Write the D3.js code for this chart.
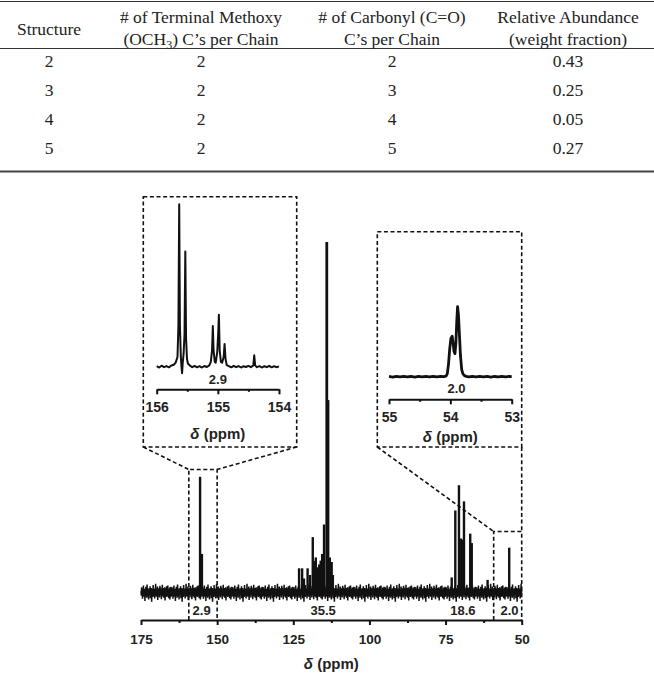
<!DOCTYPE html>
<html>
<head>
<meta charset="utf-8">
<script src="https://cdn.jsdelivr.net/npm/d3@7"></script>
<style>
  body { margin: 0; background: #fff; }
  svg { display: block; }
  .tbl text { font-family: "Liberation Serif", "Times New Roman", serif; font-size: 17.5px; fill: #222; }
  .ax text, .lbl { font-family: "Liberation Sans", Arial, sans-serif; font-weight: bold; fill: #222; }
  .ax path, .ax line { stroke: #111; stroke-width: 2; }
</style>
</head>
<body>
<svg id="chart" width="654" height="673"></svg>
<script>
// ---- table data
const structures = ["2", "3", "4", "5"];
const methoxyCounts = ["2", "2", "2", "2"];
const carbonylCounts = ["2", "3", "4", "5"];
const abundances = ["0.43", "0.25", "0.05", "0.27"];

// ---- main spectrum: peak positions (ppm) and heights (% of tallest)
const mainPeakPpm    = [155.6, 155.0, 123.1, 122.1, 121.5, 120.3, 119.5, 118.6, 118.2, 117.9, 117.6, 117.1, 116.5, 116.0, 115.5, 114.9, 114.0, 113.6, 113.0, 112.4, 112.0, 72.98, 71.8, 70.6, 70.2, 69.9, 69.5, 68.95, 66.9, 66.4, 61.2, 54.1];
const mainPeakHeight = [33,    11,    6.9,   6.9,   4,     6.9,   5,     15.8,  9,     8.3,   10,    7.2,   8,     9.1,   11,    19.4,  100,   54.9,  10,    8.7,   5,     4.3,   23.4, 30.6, 15,   15.4, 15,   26,    16.8, 14.1, 3.6,  12.8];
// baseline noise, read as a repeating pattern (% units)
const noisePattern = [0.4,-0.9,1.5,-0.6,0.3,-1.8,1.0,-0.4,2.0,-1.2,0.6,-0.7,1.1,-2.4,0.8,-0.3,1.6,-1.0,0.4,-1.5,2.3,-0.5,0.7,-1.1,0.9,-2.0,1.2,-0.2,0.6,-0.8,1.8,-1.6,0.3,-0.6,1.3,-2.6,1.0,-0.4,0.5,-1.3,2.1,-0.9,0.7,-0.3,1.1,-1.7,0.4,-1.0,2.5,-0.7,0.8,-1.2,0.5,-0.4,1.7,-2.1,0.9,-0.5,1.2,-0.8,0.3,-1.4,1.9,-0.6,1.4,-0.3,0.6,-1.9,1.0,-0.7,2.2,-1.1,0.2,-0.8,1.3,-1.5,0.7,-0.2,1.5,-2.3,0.6,-0.9,1.1,-0.4,1.8,-1.3,0.4,-0.6,2.0,-1.0,0.9,-1.6,0.5,-0.3,1.4,-2.0,0.8,-0.5,1.6,-1.2];
const mainTicks = [175, 150, 125, 100, 75, 50];
const mainMinorTicks = [162.5, 137.5, 112.5, 87.5, 62.5];
const integralLabels = ["2.9", "35.5", "18.6", "2.0"];
const integralPpm = [155.1, 115.2, 69.3, 54.0];

// ---- insets: [ppm, intensity %]
const leftInset = [[156.00,0.3],[155.96,-0.5],[155.92,0.6],[155.88,-0.3],[155.84,0.4],[155.80,-0.4],[155.76,0.7],[155.72,1.2],[155.69,2.5],[155.66,6],[155.645,25],[155.632,100],[155.62,25],[155.605,6],[155.595,0],[155.585,-4],[155.575,2],[155.56,8],[155.545,20],[155.532,71],[155.52,18],[155.505,5],[155.49,2],[155.46,0.8],[155.42,-0.3],[155.38,0.5],[155.34,-0.4],[155.30,0.3],[155.26,-0.5],[155.22,0.4],[155.18,-0.2],[155.14,0.8],[155.115,3],[155.095,10],[155.082,25],[155.07,10],[155.05,3],[155.035,2.5],[155.01,9],[154.995,20],[154.983,32],[154.97,10],[154.95,3],[154.93,2.5],[154.905,6],[154.89,14],[154.875,5],[154.855,1],[154.82,0.4],[154.78,-0.4],[154.74,0.5],[154.70,-0.3],[154.66,0.4],[154.62,-0.5],[154.58,0.3],[154.54,-0.2],[154.50,0.5],[154.46,-0.3],[154.42,0.8],[154.405,7],[154.39,0.8],[154.36,-0.3],[154.32,0.4],[154.28,-0.5],[154.24,0.3],[154.20,-0.3],[154.16,0.5],[154.12,-0.4],[154.08,0.3],[154.04,-0.3],[154.00,0.2]];
const leftTicks = [156, 155, 154];
const leftMinor = [155.5, 154.5];

const rightInset = [[55.00,0.4],[54.94,-0.5],[54.88,0.6],[54.82,-0.3],[54.76,0.5],[54.70,-0.4],[54.64,0.3],[54.58,-0.5],[54.52,0.6],[54.46,-0.3],[54.40,0.4],[54.34,-0.4],[54.28,0.5],[54.22,-0.3],[54.16,0.4],[54.10,0.2],[54.07,1],[54.05,4],[54.03,18],[54.01,40],[53.99,55],[53.97,58],[53.955,48],[53.94,36],[53.925,33],[53.91,48],[53.895,80],[53.882,100],[53.868,88],[53.852,60],[53.835,30],[53.815,10],[53.795,4],[53.77,1.5],[53.74,0.5],[53.70,-0.3],[53.64,0.4],[53.58,-0.4],[53.52,0.5],[53.46,-0.3],[53.40,0.4],[53.34,-0.5],[53.28,0.3],[53.22,-0.4],[53.16,0.5],[53.10,-0.3],[53.04,0.4],[53.00,0.2]];
const rightTicks = [55, 54, 53];
const rightMinor = [54.5, 53.5];

const svg = d3.select('#chart');

// ================= TABLE =================
const tbl = svg.append('g').attr('class', 'tbl');
const colX = d3.scaleOrdinal().domain([0, 1, 2, 3]).range([49, 201, 392, 568]);
const rowY = d3.scalePoint().domain(structures).range([61, 148]);

tbl.append('line').attr('x1', 0).attr('x2', 654).attr('y1', 1.5).attr('y2', 1.5)
    .attr('stroke', '#333').attr('stroke-width', 1);
tbl.append('line').attr('x1', 0).attr('x2', 654).attr('y1', 48.5).attr('y2', 48.5)
    .attr('stroke', '#333').attr('stroke-width', 1);
tbl.append('line').attr('x1', 0).attr('x2', 654).attr('y1', 171.5).attr('y2', 171.5)
    .attr('stroke', '#444').attr('stroke-width', 2);

// header
tbl.append('text').attr('x', colX(0)).attr('y', 35).attr('text-anchor', 'middle').text('Structure');
tbl.append('text').attr('x', colX(1)).attr('y', 23).attr('text-anchor', 'middle').text('# of Terminal Methoxy');
const h2 = tbl.append('text').attr('x', colX(1)).attr('y', 45).attr('text-anchor', 'middle');
h2.append('tspan').text('(OCH');
h2.append('tspan').attr('font-size', '12px').attr('dy', 4).text('3');
h2.append('tspan').attr('dy', -4).text(')\u00a0C\u2019s per Chain');
tbl.append('text').attr('x', colX(2)).attr('y', 23).attr('text-anchor', 'middle').text('# of Carbonyl (C=O)');
tbl.append('text').attr('x', colX(2)).attr('y', 45).attr('text-anchor', 'middle').text('C\u2019s per Chain');
tbl.append('text').attr('x', colX(3)).attr('y', 23).attr('text-anchor', 'middle').text('Relative Abundance');
tbl.append('text').attr('x', colX(3)).attr('y', 45).attr('text-anchor', 'middle').text('(weight fraction)');

const rows = structures.map((s, i) => [s, methoxyCounts[i], carbonylCounts[i], abundances[i]]);
rows.forEach(r => {
  r.forEach((v, c) => {
    tbl.append('text').attr('x', colX(c)).attr('y', rowY(r[0]) + 6)
      .attr('text-anchor', 'middle').text(v);
  });
});

// ================= MAIN SPECTRUM =================
const x = d3.scaleLinear().domain([175, 50]).range([141, 521.7]);
const y = d3.scaleLinear().domain([0, 100]).range([592.5, 242]);
const axisY = 620;

// baseline noise trace
const samples = d3.range(0, 1251).map(i => [175 - i * 0.1, noisePattern[i % noisePattern.length]]);
svg.append('path')
    .datum(samples)
    .attr('fill', 'none')
    .attr('stroke', '#111')
    .attr('stroke-width', 1.5)
    .attr('d', d3.line().x(d => x(d[0])).y(d => y(d[1])));

// peaks
svg.selectAll('.peak')
    .data(mainPeakPpm.map((p, i) => [p, mainPeakHeight[i]]))
    .enter().append('line')
    .attr('class', 'peak')
    .attr('x1', d => x(d[0])).attr('x2', d => x(d[0]))
    .attr('y1', y(0)).attr('y2', d => y(d[1]))
    .attr('stroke', '#111')
    .attr('stroke-width', d => d[1] > 50 ? 2.8 : 2.4);

// axis
svg.append('g').attr('class', 'ax')
    .attr('transform', 'translate(0,' + axisY + ')')
    .call(d3.axisBottom(x).tickValues(mainTicks).tickFormat(d3.format('d'))
        .tickSize(5).tickSizeOuter(0).tickPadding(9))
    .call(g => g.selectAll('text').attr('font-size', '13.5px'));
svg.append('g').attr('class', 'ax')
    .attr('transform', 'translate(0,' + axisY + ')')
    .call(d3.axisBottom(x).tickValues(mainMinorTicks).tickSize(3).tickSizeOuter(0).tickFormat(''))
    .call(g => g.select('.domain').remove());

const title = (g, cx, cy, size) => {
  const t = g.append('text').attr('class', 'lbl').attr('x', cx).attr('y', cy)
      .attr('text-anchor', 'middle').attr('font-size', size);
  t.append('tspan').attr('font-style', 'italic').text('\u03b4');
  t.append('tspan').text(' (ppm)');
};
title(svg, (x.range()[0] + x.range()[1]) / 2, 669, '15px');

svg.selectAll('.integ')
    .data(integralLabels)
    .enter().append('text')
    .attr('class', 'lbl integ')
    .attr('x', (d, i) => x(integralPpm[i]))
    .attr('y', 615)
    .attr('text-anchor', 'middle')
    .attr('font-size', '13px')
    .text(d => d);

// ================= INSETS =================
const dash = sel => sel.attr('fill', 'none').attr('stroke', '#111')
    .attr('stroke-width', 1.6).attr('stroke-dasharray', '4,2.6');

function drawInset(o) {
  const ix = d3.scaleLinear().domain(o.domain).range(o.xr);
  const iy = d3.scaleLinear().domain([0, 100]).range(o.yr);
  svg.append('rect').attr('x', o.box[0]).attr('y', o.box[1])
      .attr('width', o.box[2] - o.box[0]).attr('height', o.box[3] - o.box[1]).call(dash);
  svg.append('path').datum(o.data)
      .attr('fill', 'none').attr('stroke', '#111')
      .attr('stroke-width', o.sw).attr('stroke-linejoin', 'round')
      .attr('d', d3.line().x(d => ix(d[0])).y(d => iy(d[1])));
  svg.append('g').attr('class', 'ax')
      .attr('transform', 'translate(0,' + o.axisY + ')')
      .call(d3.axisBottom(ix).tickValues(o.ticks).tickFormat(d3.format('d'))
          .tickSize(5).tickSizeOuter(0).tickPadding(7.5))
      .call(g => g.selectAll('text').attr('font-size', '14px'));
  svg.append('g').attr('class', 'ax')
      .attr('transform', 'translate(0,' + o.axisY + ')')
      .call(d3.axisBottom(ix).tickValues(o.minor).tickSize(2.5).tickSizeOuter(0).tickFormat(''))
      .call(g => g.select('.domain').remove());
  svg.append('text').attr('class', 'lbl')
      .attr('x', ix(o.labelPpm)).attr('y', o.labelY)
      .attr('text-anchor', 'middle').attr('font-size', '13px').text(o.label);
  title(svg, (o.xr[0] + o.xr[1]) / 2, o.titleY, '15px');

  // zoom window on the main spectrum and connectors
  const zx0 = x(o.zoom[0]), zx1 = x(o.zoom[1]), zy = y(o.zoom[2]);
  svg.append('path').call(dash)
      .attr('d', `M${zx0},${axisY}V${zy}H${zx1}V${axisY}`);
  svg.append('path').call(dash)
      .attr('d', `M${o.box[0]},${o.box[3]}L${zx0},${zy}M${o.box[2]},${o.box[3]}L${zx1},${zy}`);
}

drawInset({
  data: leftInset, domain: [156, 154], xr: [156.7, 279], yr: [366.7, 204.3],
  box: [143.3, 196.7, 296.7, 447], axisY: 389.3, ticks: leftTicks, minor: leftMinor,
  label: integralLabels[0], labelPpm: 155.0, labelY: 384, titleY: 438.5, sw: 2,
  zoom: [159.3, 150, 35.1]
});
drawInset({
  data: rightInset, domain: [55, 53], xr: [389, 511.7], yr: [376.7, 306.7],
  box: [377.3, 231.7, 521.7, 447], axisY: 399.3, ticks: rightTicks, minor: rightMinor,
  label: integralLabels[3], labelPpm: 53.9, labelY: 392.5, titleY: 442, sw: 2.8,
  zoom: [59.2, 50, 17.4]
});
</script>
</body>
</html>
